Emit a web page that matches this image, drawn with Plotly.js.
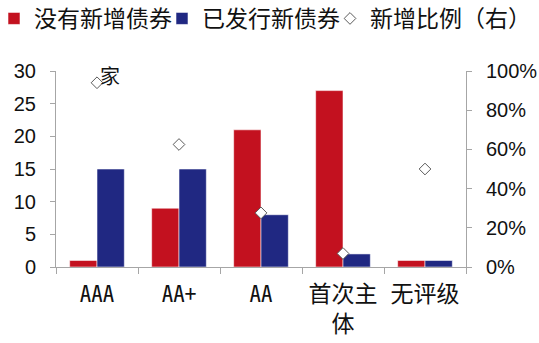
<!DOCTYPE html>
<html>
<head>
<meta charset="utf-8">
<script src="https://cdn.plot.ly/plotly-3.0.1.min.js"></script>
<style>
  html, body { margin: 0; padding: 0; background: #fff; }
  #chart { width: 539px; height: 343px; }
</style>
</head>
<body>
<div id="chart"></div>
<script>
// Issuer ratings and counts of issuers (家)
var categories = ['AAA', 'AA+', 'AA', '首次主<br>体', '无评级'];
var noNewBonds = [1, 9, 21, 27, 1];        // 没有新增债券
var issuedNewBonds = [15, 15, 8, 2, 1];    // 已发行新债券
var newShare = [0.94, 0.625, 0.276, 0.069, 0.5]; // 新增比例 (right axis)

var seriesNames = ['没有新增债券', '已发行新债券', '新增比例（右）'];
var unitLabel = '家';

var RED = '#C3111F';
var BLUE = '#202882';
var AXIS = '#a6a6a6';
var CJK = '"Noto Sans CJK SC", "Noto Sans", sans-serif';
var NUM = '"Liberation Sans", Arial, sans-serif';

var M = { l: 56, r: 73, t: 71, b: 76 };
var W = 539, H = 343;
var plotW = W - M.l - M.r, plotH = H - M.t - M.b;

var traces = [
  {
    type: 'bar', name: seriesNames[0], x: categories, y: noNewBonds,
    legend: 'legend',
    marker: { color: RED, line: { color: 'rgba(255,255,255,0.55)', width: 1 } },
    hoverinfo: 'skip'
  },
  {
    type: 'bar', name: seriesNames[1], x: categories, y: issuedNewBonds,
    legend: 'legend2',
    marker: { color: BLUE, line: { color: 'rgba(255,255,255,0.55)', width: 1 } },
    hoverinfo: 'skip'
  },
  {
    type: 'scatter', mode: 'markers', name: seriesNames[2], x: categories, y: newShare,
    yaxis: 'y2', legend: 'legend3',
    marker: { symbol: 'diamond', size: 9, color: '#ffffff', line: { color: '#5a5a5a', width: 1 } },
    hoverinfo: 'skip'
  }
];

// one legend per series so the three entries sit in a single tight row;
// left edge given in page pixels, converted to plot-area fractions
function legendAt(px) {
  return {
    orientation: 'h', xref: 'paper', yref: 'paper',
    x: (px - M.l) / plotW, y: 1 + (M.t + 3) / plotH,
    xanchor: 'left', yanchor: 'top',
    font: { family: CJK, size: 23, color: '#111' },
    bgcolor: 'rgba(0,0,0,0)'
  };
}

var layout = {
  width: W, height: H,
  margin: { l: M.l, r: M.r, t: M.t, b: M.b, pad: 0, autoexpand: false },
  paper_bgcolor: '#ffffff', plot_bgcolor: '#ffffff',
  barmode: 'group', bargap: 1 / 3, bargroupgap: 0,
  showlegend: true,
  legend: legendAt(-6),
  legend2: legendAt(162),
  legend3: legendAt(330),
  xaxis: {
    type: 'category', showline: true, linecolor: AXIS, linewidth: 1,
    ticks: 'outside', tickson: 'boundaries', ticklen: 6, tickcolor: AXIS,
    ticklabelstandoff: 6,
    showgrid: false, zeroline: false, fixedrange: true,
    tickfont: { family: '"Noto Sans Mono CJK SC", ' + CJK, size: 23, color: '#111' }
  },
  yaxis: {
    range: [0, 30], dtick: 5, showline: true, linecolor: AXIS, linewidth: 1,
    ticks: 'outside', ticklen: 5, tickcolor: AXIS, ticklabelstandoff: 10,
    showgrid: false, zeroline: false, fixedrange: true,
    tickfont: { family: NUM, size: 20, color: '#111' }
  },
  yaxis2: {
    overlaying: 'y', side: 'right', range: [0, 1], dtick: 0.2, tickformat: '.0%',
    showline: true, linecolor: AXIS, linewidth: 1,
    ticks: 'outside', ticklen: 5, tickcolor: AXIS, ticklabelstandoff: 10,
    showgrid: false, zeroline: false, fixedrange: true,
    tickfont: { family: NUM, size: 20, color: '#111' }
  },
  annotations: [
    {
      text: unitLabel, xref: 'paper', yref: 'paper', x: 0.132, y: 0.978,
      xanchor: 'center', yanchor: 'middle', showarrow: false,
      font: { family: CJK, size: 20, color: '#111' }
    }
  ]
};

Plotly.newPlot('chart', traces, layout, { staticPlot: true, displayModeBar: false });
</script>
</body>
</html>
